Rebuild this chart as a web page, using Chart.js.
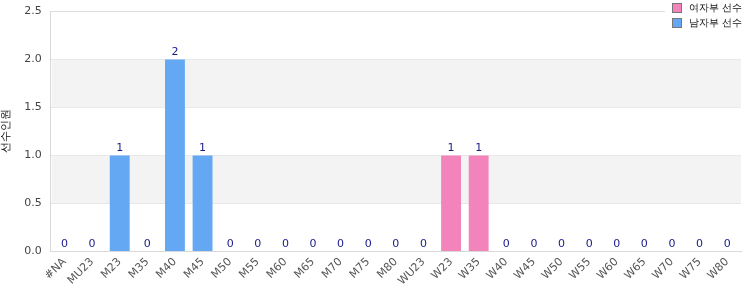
<!DOCTYPE html>
<html>
<head>
<meta charset="utf-8">
<script src="https://cdn.jsdelivr.net/npm/chart.js@4/dist/chart.umd.min.js"></script>
<style>
  html, body { margin: 0; padding: 0; background: #fff; overflow: hidden; }
  #wrap { position: relative; top: -4px; width: 750px; height: 304px; }
</style>
</head>
<body>
<div id="wrap"><canvas id="ageChart"></canvas></div>
<script>
const categories = ['#NA', 'MU23', 'M23', 'M35', 'M40', 'M45', 'M50', 'M55', 'M60', 'M65', 'M70', 'M75', 'M80',
    'WU23', 'W23', 'W35', 'W40', 'W45', 'W50', 'W55', 'W60', 'W65', 'W70', 'W75', 'W80'];
const womenCounts = [0, 0, 0, 0, 0, 0, 0, 0, 0, 0, 0, 0, 0, 0, 1, 1, 0, 0, 0, 0, 0, 0, 0, 0, 0];
const menCounts   = [0, 0, 1, 0, 2, 1, 0, 0, 0, 0, 0, 0, 0, 0, 0, 0, 0, 0, 0, 0, 0, 0, 0, 0, 0];
const seriesNames = ['여자부 선수', '남자부 선수'];
const yTitle = '선수인원';

const font = 'DejaVu Sans';

// grey bands behind the grid
const bandPlugin = {
    id: 'bands',
    beforeDatasetsDraw(chart) {
        const { ctx, chartArea, scales } = chart;
        const y = scales.y;
        ctx.save();
        ctx.fillStyle = '#f3f3f3';
        [[0.5, 1.0], [1.5, 2.0]].forEach(([a, b]) => {
            const top = y.getPixelForValue(b), bot = y.getPixelForValue(a);
            ctx.fillRect(chartArea.left + 1, top, chartArea.right - chartArea.left - 1, bot - top);
        });
        ctx.restore();
    }
};

// total labels above each stack
const totalsPlugin = {
    id: 'totals',
    afterDatasetsDraw(chart) {
        const { ctx, scales } = chart;
        ctx.save();
        ctx.font = '11px "' + font + '"';
        ctx.fillStyle = '#1a1a8a';
        ctx.textAlign = 'center';
        ctx.textBaseline = 'bottom';
        categories.forEach((c, i) => {
            const total = womenCounts[i] + menCounts[i];
            const x = scales.x.getPixelForValue(i);
            const yy = scales.y.getPixelForValue(total);
            ctx.fillText(String(total), x, yy - 2);
        });
        ctx.restore();
    }
};

// legend box overlapping the top right corner (canvas is shifted up 4px)
const legendPlugin = {
    id: 'cornerLegend',
    afterDraw(chart) {
        const { ctx } = chart;
        const colors = ['#f283bb', '#64a8f4'];
        ctx.save();
        ctx.fillStyle = '#fff';
        ctx.fillRect(665, 0, 85, 38);
        ctx.font = '10px "' + font + '"';
        ctx.textBaseline = 'middle';
        seriesNames.forEach((name, i) => {
            const yy = 12 + i * 15;
            ctx.fillStyle = colors[i];
            ctx.fillRect(673, yy - 4, 8, 8);
            ctx.strokeStyle = '#777';
            ctx.lineWidth = 1;
            ctx.strokeRect(672.5, yy - 4.5, 9, 9);
            ctx.fillStyle = '#111';
            ctx.fillText(name, 689, yy);
        });
        ctx.restore();
    }
};

new Chart(document.getElementById('ageChart').getContext('2d'), {
    type: 'bar',
    data: {
        labels: categories,
        datasets: [{
            label: seriesNames[0],
            data: womenCounts,
            backgroundColor: '#f283bb',
            categoryPercentage: 0.8,
            barPercentage: 0.9
        }, {
            label: seriesNames[1],
            data: menCounts,
            backgroundColor: '#64a8f4',
            categoryPercentage: 0.8,
            barPercentage: 0.9
        }]
    },
    options: {
        responsive: true,
        maintainAspectRatio: false,
        animation: false,
        layout: { padding: { top: 0, right: 9, left: 0, bottom: 8 } },
        plugins: {
            legend: { display: false },
            tooltip: { enabled: false }
        },
        scales: {
            x: {
                stacked: true,
                grid: { display: false, drawTicks: false },
                border: { color: '#d9d9d9' },
                ticks: {
                    maxRotation: 45, minRotation: 45,
                    color: '#555',
                    padding: 4,
                    font: { family: font, size: 11 }
                }
            },
            y: {
                stacked: true,
                min: 0, max: 2.5,
                grid: { color: '#dedede', drawTicks: false },
                border: { color: '#d9d9d9' },
                ticks: {
                    stepSize: 0.5,
                    color: '#444',
                    padding: 9,
                    font: { family: font, size: 11 },
                    callback: v => v.toFixed(1)
                },
                title: {
                    display: true,
                    text: yTitle,
                    color: '#111',
                    font: { family: font, size: 11 },
                    padding: { top: 0, bottom: 2 }
                }
            }
        }
    },
    plugins: [bandPlugin, totalsPlugin, legendPlugin]
});
</script>
</body>
</html>
